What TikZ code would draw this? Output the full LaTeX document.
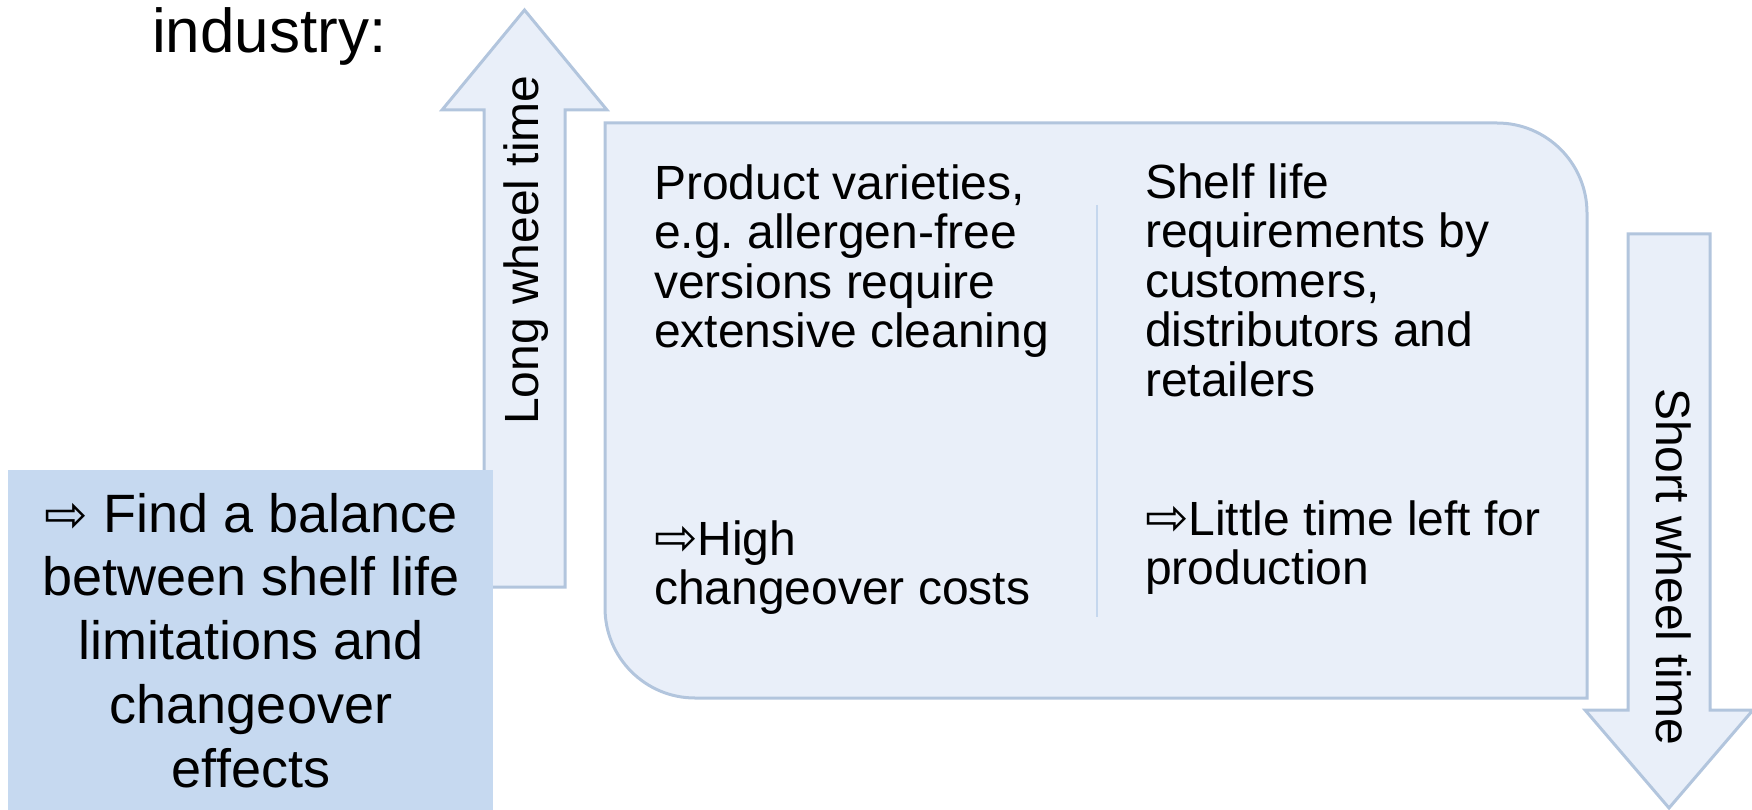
\documentclass[tikz,border=0pt]{standalone}
\usepackage{fontspec}
\setmainfont{Liberation Sans}
\newfontfamily\symfont{DejaVu Sans}
\frenchspacing
\definecolor{boxfill}{HTML}{E9EFF9}
\definecolor{edgeblue}{HTML}{B2C5DD}
\definecolor{leftfill}{HTML}{C6D9F0}
\definecolor{divblue}{HTML}{C5D7EE}
\newcommand{\warr}{{\symfont\fontsize{52}{48}\selectfont ⇨}}
\tikzset{
  shapebox/.style={fill=boxfill, draw=edgeblue, line width=3pt, line join=miter},
  boxtxt/.style={inner sep=0pt, outer sep=0pt, align=left, anchor=base west, font=\fontsize{48}{49.5}\selectfont},
  bigtxt/.style={inner sep=0pt, outer sep=0pt, align=center, anchor=base, font=\fontsize{54}{63.75}\selectfont},
  rottxt/.style={inner sep=0pt, outer sep=0pt, anchor=base, font=\fontsize{48}{48}\selectfont},
}
\begin{document}
\begin{tikzpicture}[x=1pt,y=-1pt]
\useasboundingbox (0,0) rectangle (1752,810);
% up arrow
\draw[shapebox] (524.5,10) -- (607,110) -- (565,110) -- (565,587) -- (484,587) -- (484,110) -- (442,110) -- cycle;
% rounded box
\draw[shapebox] (605,123) -- (1497,123) .. controls (1546.7,123) and (1587,163.3) .. (1587,213) -- (1587,698) -- (695,698) .. controls (645.3,698) and (605,657.7) .. (605,608) -- cycle;
% divider
\coordinate (dtop) at (1097,205);
\coordinate (dbot) at (1097,617);
\draw[divblue, line width=2pt] (dtop) -- (dbot);
% down arrow
\draw[shapebox] (1628,234) -- (1710,234) -- (1710,710) -- (1753,710) -- (1669,808) -- (1585,710) -- (1628,710) -- cycle;
% left box
\fill[leftfill] (8,470) rectangle (493,812);
% texts (base anchor = baseline of the last line)
\node[inner sep=0pt, anchor=base west, font=\fontsize{62}{62}\selectfont] (ind) at (152,53) {industry:};
\node[boxtxt] (pv) at (654,347.5) {Product varieties,\\e.g. allergen-free\\versions require\\extensive cleaning};
\node[boxtxt] (hc) at (654,604.5) {\warr High\\changeover costs};
\node[boxtxt] (sl) at (1145,396) {Shelf life\\requirements by\\customers,\\distributors and\\retailers};
\node[boxtxt] (lt) at (1145,584.5) {\warr Little time left for\\production};
\node[rottxt, rotate=90] (lw) at (538,250) {Long wheel time};
\node[rottxt, rotate=-90] (sw) at (1656,567) {Short wheel time};
\node[bigtxt] (bal) at (251,787) {\warr{} Find a balance\\between shelf life\\limitations and\\changeover\\effects};
\end{tikzpicture}
\end{document}
